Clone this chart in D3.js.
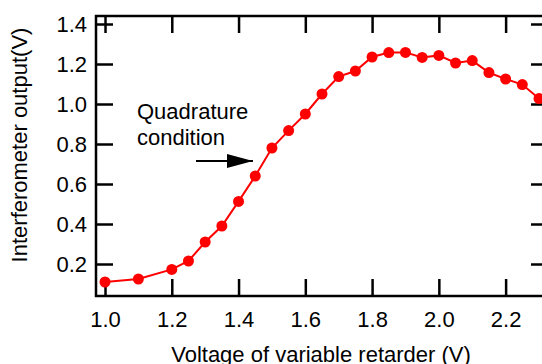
<!DOCTYPE html>
<html>
<head>
<meta charset="utf-8">
<script src="https://cdn.jsdelivr.net/npm/d3@7"></script>
<style>
  body { margin: 0; background: #fff; }
  text { font-family: "Liberation Sans", Arial, sans-serif; }
</style>
</head>
<body>
<svg id="chart"></svg>
<script>
const voltage = [1.0, 1.1, 1.2, 1.25, 1.3, 1.35, 1.4, 1.45, 1.5, 1.55, 1.6, 1.65, 1.7, 1.75,
                 1.8, 1.85, 1.9, 1.95, 2.0, 2.05, 2.1, 2.15, 2.2, 2.25, 2.3]
const output = [0.11, 0.125, 0.173, 0.215, 0.31, 0.39, 0.513, 0.64, 0.78, 0.867, 0.95, 1.05, 1.137, 1.165,
                1.235, 1.257, 1.258, 1.233, 1.243, 1.205, 1.217, 1.157, 1.125, 1.097, 1.027]
const xTicks = [1.0, 1.2, 1.4, 1.6, 1.8, 2.0, 2.2]
const yTicks = [0.2, 0.4, 0.6, 0.8, 1.0, 1.2, 1.4]

const width = 542
const height = 364
const margin = {top: 16, right: -6, bottom: 68, left: 96}
const innerW = width - margin.left - margin.right
const innerH = height - margin.top - margin.bottom
const tickLen = 17

const svg = d3.select('#chart')
    .attr('width', width)
    .attr('height', height)

const xScale = d3.scaleLinear()
    .domain([0.973, 2.3])
    .range([0, 443])
const yScale = d3.scaleLinear()
    .domain([0.04, 1.44])
    .range([innerH, 0])

const g = svg.append('g')
    .attr('transform', `translate(${margin.left},${margin.top})`)

// frame axes, ticks pointing inside
const styleAxis = ax => {
    ax.select('.domain').remove()
    ax.selectAll('line').attr('stroke', '#000').attr('stroke-width', 2.5)
    ax.selectAll('text').attr('font-size', 22).attr('fill', '#000')
}
g.append('g')
    .attr('transform', `translate(0,${innerH})`)
    .call(d3.axisBottom(xScale).tickValues(xTicks).tickFormat(d3.format('.1f')).tickSizeInner(-tickLen).tickSizeOuter(0).tickPadding(15))
    .call(styleAxis)
g.append('g')
    .call(d3.axisTop(xScale).tickValues(xTicks).tickFormat('').tickSizeInner(-tickLen).tickSizeOuter(0))
    .call(styleAxis)
g.append('g')
    .call(d3.axisLeft(yScale).tickValues(yTicks).tickFormat(d3.format('.1f')).tickSizeInner(-tickLen).tickSizeOuter(0).tickPadding(9))
    .call(styleAxis)
g.append('g')
    .attr('transform', `translate(${innerW},0)`)
    .call(d3.axisRight(yScale).tickValues(yTicks).tickFormat('').tickSizeInner(-tickLen).tickSizeOuter(0))
    .call(styleAxis)

g.append('rect')
    .attr('x', 0).attr('y', 0)
    .attr('width', innerW).attr('height', innerH)
    .attr('fill', 'none')
    .attr('stroke', '#000')
    .attr('stroke-width', 2.5)

const points = voltage.map((v, i) => [v, output[i]])

g.append('path')
    .datum(points)
    .attr('fill', 'none')
    .attr('stroke', '#ff0000')
    .attr('stroke-width', 2)
    .attr('d', d3.line().x(d => xScale(d[0])).y(d => yScale(d[1])))

g.selectAll('circle').data(points)
    .enter().append('circle')
        .attr('cx', d => xScale(d[0]))
        .attr('cy', d => yScale(d[1]))
        .attr('r', 5.5)
        .attr('fill', '#ff0000')

// annotation
g.append('text')
    .attr('x', 137 - margin.left).attr('y', 119 - margin.top)
    .attr('font-size', 22)
    .text('Quadrature')
g.append('text')
    .attr('x', 137 - margin.left).attr('y', 145 - margin.top)
    .attr('font-size', 22)
    .text('condition')

svg.append('defs').append('marker')
    .attr('id', 'head')
    .attr('viewBox', '0 0 26 14')
    .attr('refX', 26).attr('refY', 7)
    .attr('markerWidth', 26).attr('markerHeight', 14)
    .attr('markerUnits', 'userSpaceOnUse')
    .attr('orient', 'auto')
    .append('path')
    .attr('d', 'M0,0L26,7L0,14Z')
    .attr('fill', '#000')

g.append('line')
    .attr('x1', 196 - margin.left).attr('y1', 161 - margin.top)
    .attr('x2', 253 - margin.left).attr('y2', 161 - margin.top)
    .attr('stroke', '#000')
    .attr('stroke-width', 2)
    .attr('marker-end', 'url(#head)')

// axis titles
svg.append('text')
    .attr('x', 321).attr('y', 362)
    .attr('text-anchor', 'middle')
    .attr('font-size', 22)
    .text('Voltage of variable retarder (V)')
svg.append('text')
    .attr('transform', `translate(27,145) rotate(-90)`)
    .attr('text-anchor', 'middle')
    .attr('font-size', 22)
    .text('Interferometer output(V)')
</script>
</body>
</html>
